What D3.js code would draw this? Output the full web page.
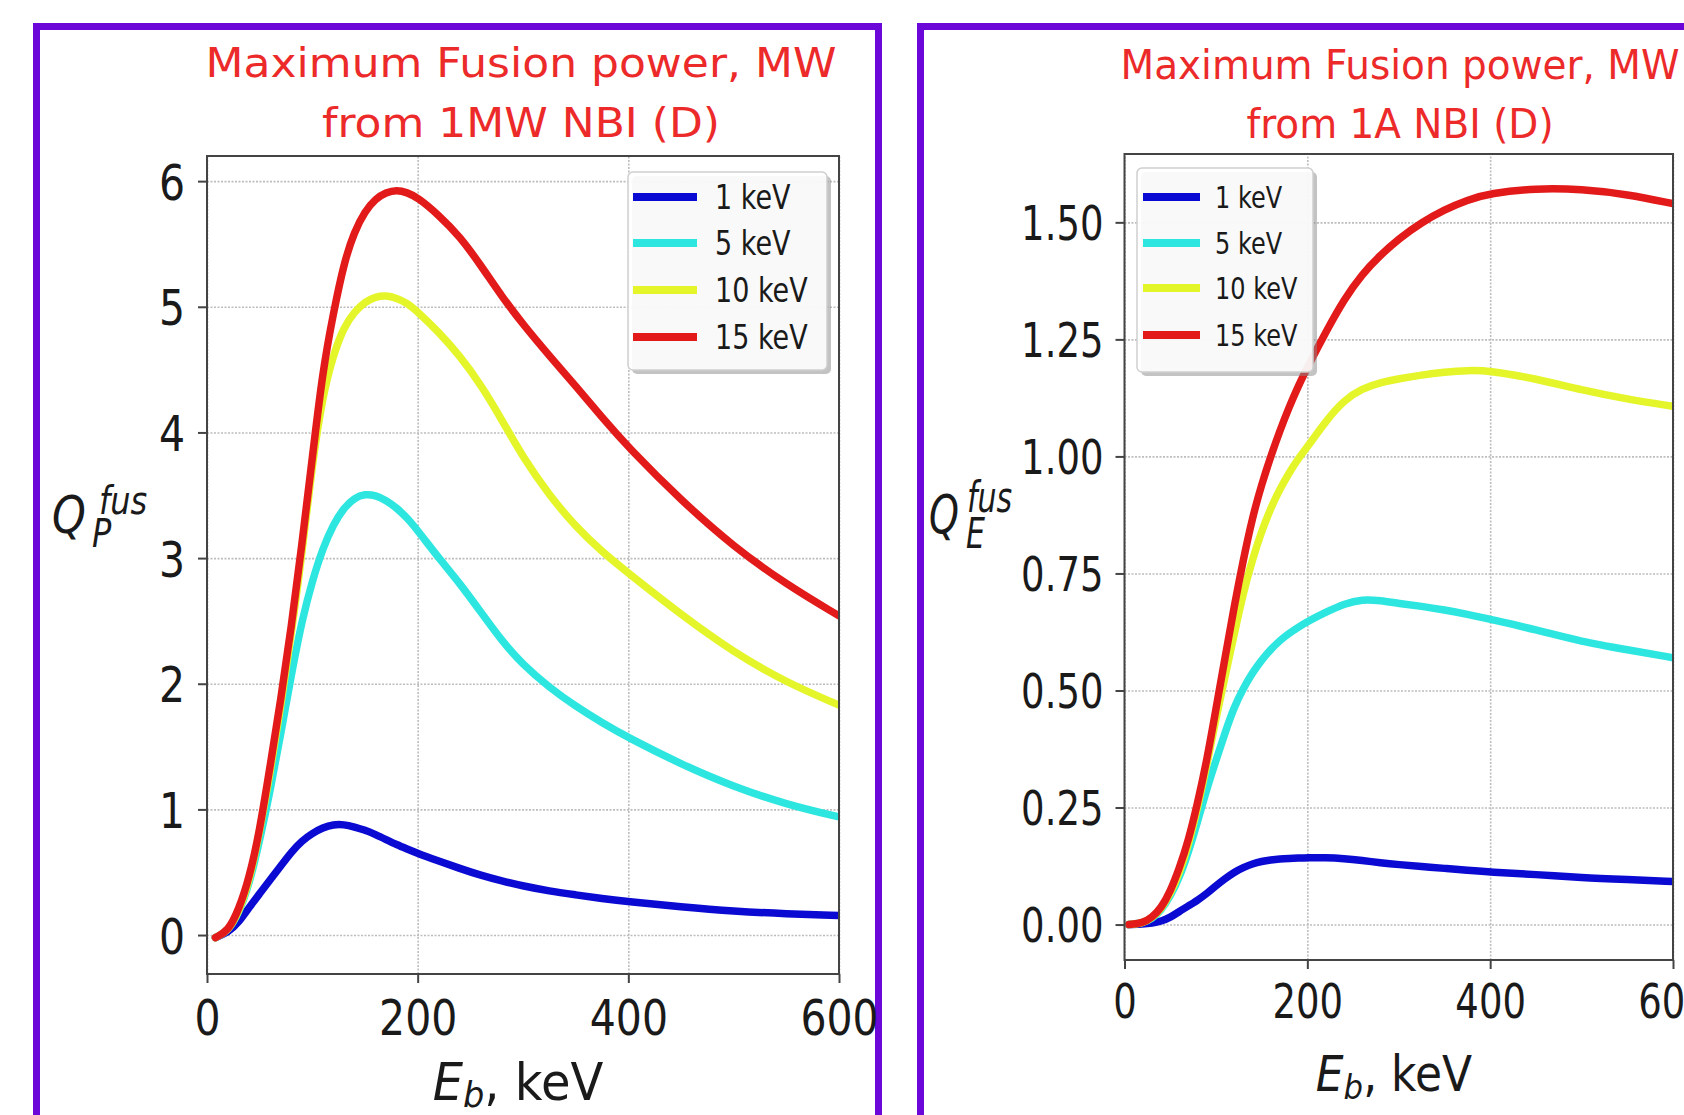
<!DOCTYPE html>
<html>
<head>
<meta charset="utf-8">
<script src="https://cdn.jsdelivr.net/npm/d3@7"></script>
<style>
  html, body { margin: 0; padding: 0; background: #fff; }
  svg { display: block; font-family: "DejaVu Sans", sans-serif; }
</style>
</head>
<body>
<svg id="chart" width="1684" height="1115"></svg>
<script>
// Beam energy grids, keV
const ebPower = [8, 20, 30, 40, 50, 60, 70, 80, 90, 100, 110, 120, 130, 140, 150, 160, 170, 180, 190, 200,
                 220, 240, 260, 280, 300, 325, 350, 375, 400, 450, 500, 550, 600];
const ebCurrent = [5, 20, 30, 40, 50, 60, 70, 80, 90, 100, 110, 120, 130, 140, 150, 160, 170, 180, 190, 200,
                   220, 240, 260, 280, 300, 325, 350, 375, 400, 450, 500, 550, 600];

// Q_P^fus (left panel), one array per plasma temperature
const qp1  = [-0.02, 0.02, 0.1, 0.22, 0.33, 0.44, 0.55, 0.66, 0.75, 0.81, 0.855, 0.88, 0.88, 0.86, 0.835, 0.8, 0.76, 0.72, 0.685, 0.65,
              0.59, 0.53, 0.475, 0.43, 0.39, 0.35, 0.32, 0.29, 0.265, 0.225, 0.19, 0.168, 0.155];
const qp5  = [-0.02, 0.03, 0.17, 0.4, 0.75, 1.15, 1.6, 2.07, 2.5, 2.82, 3.08, 3.27, 3.4, 3.48, 3.51, 3.5, 3.46, 3.4, 3.32, 3.22,
              3.0, 2.8, 2.57, 2.34, 2.15, 1.97, 1.82, 1.69, 1.57, 1.36, 1.18, 1.04, 0.94];
const qp10 = [-0.02, 0.03, 0.18, 0.42, 0.82, 1.3, 1.82, 2.4, 3.02, 3.76, 4.3, 4.62, 4.84, 4.96, 5.04, 5.08, 5.09, 5.07, 5.03, 4.96,
              4.8, 4.61, 4.38, 4.1, 3.8, 3.5, 3.25, 3.05, 2.88, 2.55, 2.25, 2.01, 1.83];
const qp15 = [-0.02, 0.03, 0.2, 0.45, 0.83, 1.35, 1.87, 2.45, 3.1, 3.8, 4.5, 4.95, 5.35, 5.6, 5.76, 5.86, 5.91, 5.93, 5.91, 5.87,
              5.73, 5.56, 5.33, 5.08, 4.86, 4.61, 4.37, 4.12, 3.88, 3.46, 3.09, 2.79, 2.54];

// Q_E^fus (right panel)
const qe1  = [0, 0.001, 0.003, 0.007, 0.015, 0.028, 0.04, 0.052, 0.066, 0.083, 0.098, 0.112, 0.122, 0.13, 0.135, 0.138, 0.14, 0.141, 0.142, 0.143,
              0.143, 0.141, 0.137, 0.132, 0.128, 0.124, 0.12, 0.116, 0.112, 0.107, 0.1, 0.096, 0.092];
const qe5  = [0, 0.003, 0.012, 0.03, 0.06, 0.1, 0.155, 0.22, 0.29, 0.35, 0.41, 0.465, 0.505, 0.538, 0.565, 0.588, 0.607, 0.622, 0.635, 0.647,
              0.667, 0.685, 0.695, 0.692, 0.686, 0.68, 0.672, 0.663, 0.652, 0.63, 0.604, 0.587, 0.57];
const qe10 = [0, 0.003, 0.014, 0.033, 0.065, 0.11, 0.17, 0.25, 0.34, 0.44, 0.53, 0.62, 0.71, 0.78, 0.84, 0.89, 0.93, 0.965, 0.995, 1.02,
              1.075, 1.12, 1.145, 1.158, 1.166, 1.174, 1.18, 1.184, 1.183, 1.166, 1.142, 1.122, 1.107];
const qe15 = [0, 0.003, 0.015, 0.035, 0.07, 0.12, 0.18, 0.26, 0.35, 0.46, 0.57, 0.68, 0.78, 0.87, 0.94, 1.0, 1.055, 1.105, 1.15, 1.19,
              1.265, 1.335, 1.39, 1.43, 1.465, 1.5, 1.527, 1.548, 1.562, 1.573, 1.571, 1.56, 1.54];

const seriesLabels = ["1 keV", "5 keV", "10 keV", "15 keV"];
const seriesColors = ["#0a0ad2", "#2ee6e0", "#e4f52a", "#e31a1a"];

const xTicks = [0, 200, 400, 600];
const yTicksPower = [0, 1, 2, 3, 4, 5, 6];
const yTicksCurrent = [0, 0.25, 0.5, 0.75, 1.0, 1.25, 1.5];

const titlesPower = ["Maximum Fusion power, MW", "from 1MW NBI (D)"];
const titlesCurrent = ["Maximum Fusion power, MW", "from 1A NBI (D)"];

const svg = d3.select("#chart");
const purple = "#6b07d8";
const axisColor = "#444";

const panels = [
    {
        frame: { x: 36.5, w: 842 },
        titles: titlesPower, titleX: 521, titleBase: [77, 137], titleSize: 44, titleSy: 0.94,
        box: { left: 207, right: 839, top: 156, bottom: 974 },
        xDomain: [0, 600], yDomain: [-0.31, 6.2],
        eb: ebPower, series: [qp1, qp5, qp10, qp15],
        yTicks: yTicksPower, yFormat: d3.format("d"),
        tickFont: 41, tickSy: 1.22, yPad: 22, xLabTop: 24,
        ylab: { x: 52, base: 533, font: 43, sy: 1.2, sub: "P", supDx: 47, supDy: -16, subDx: 40, subDy: 12, small: 32 },
        xlab: { x: 518, base: 1100, font: 48, sy: 1.06 },
        legend: { x: 628, y: 172, w: 199, h: 198, rows: [197, 243, 290, 337], hx: [633, 697], tx: 715, font: 27, sy: 1.22 }
    },
    {
        frame: { x: 920.5, w: 900 },
        titles: titlesCurrent, titleX: 1400, titleBase: [79, 138], titleSize: 39, titleSy: 1.05,
        box: { left: 1124.5, right: 1673, top: 154, bottom: 960 },
        xDomain: [0, 600], yDomain: [-0.0757, 1.646],
        eb: ebCurrent, series: [qe1, qe5, qe10, qe15],
        yTicks: yTicksCurrent, yFormat: d3.format(".2f"),
        tickFont: 37, tickSy: 1.3, yPad: 21, xLabTop: 23,
        ylab: { x: 929, base: 533, font: 38, sy: 1.4, sub: "E", supDx: 38, supDy: -15, subDx: 37, subDy: 11, small: 30 },
        xlab: { x: 1394, base: 1091, font: 44, sy: 1.12 },
        legend: { x: 1137, y: 168, w: 176, h: 204, rows: [197, 243, 288, 335], hx: [1143, 1200], tx: 1215, font: 24, sy: 1.22 }
    }
];

panels.forEach((p, idx) => drawPanel(p, idx));

function drawPanel(p, idx) {
    const g = svg.append("g");
    const b = p.box;
    const x = d3.scaleLinear().domain(p.xDomain).range([b.left, b.right]);
    const y = d3.scaleLinear().domain(p.yDomain).range([b.bottom, b.top]);

    // purple frame, open at the bottom of the picture
    g.append("rect")
        .attr("x", p.frame.x).attr("y", 26.5)
        .attr("width", p.frame.w).attr("height", 1200)
        .attr("fill", "none").attr("stroke", purple).attr("stroke-width", 7);

    // title
    p.titles.forEach((t, i) => {
        g.append("text")
            .attr("transform", `translate(${p.titleX},${p.titleBase[i]}) scale(1,${p.titleSy})`)
            .attr("text-anchor", "middle")
            .attr("font-size", p.titleSize)
            .attr("fill", "#ec2a2a")
            .text(t);
    });

    // grid
    const gx = g.append("g")
        .attr("transform", `translate(0,${b.bottom})`)
        .call(d3.axisBottom(x).tickValues(xTicks).tickSize(-(b.bottom - b.top)).tickFormat(""));
    gx.select(".domain").remove();
    const gy = g.append("g")
        .attr("transform", `translate(${b.left},0)`)
        .call(d3.axisLeft(y).tickValues(p.yTicks).tickSize(-(b.right - b.left)).tickFormat(""));
    gy.select(".domain").remove();
    g.selectAll("g.tick line")
        .attr("stroke", "#bdbdbd").attr("stroke-width", 1.6).attr("stroke-dasharray", "2,1.5");

    // curves
    const clipId = "clip" + idx;
    g.append("clipPath").attr("id", clipId)
        .append("rect").attr("x", b.left).attr("y", b.top)
        .attr("width", b.right - b.left).attr("height", b.bottom - b.top);

    const line = d3.line()
        .x(d => x(d[0]))
        .y(d => y(d[1]))
        .curve(d3.curveBasis);

    p.series.forEach((vals, i) => {
        g.append("path")
            .datum(p.eb.map((e, j) => [e, vals[j]]))
            .attr("clip-path", `url(#${clipId})`)
            .attr("d", line)
            .attr("fill", "none")
            .attr("stroke", seriesColors[i])
            .attr("stroke-width", 7.5)
            .attr("stroke-linejoin", "round")
            .attr("stroke-linecap", "round");
    });

    // axes box
    g.append("rect")
        .attr("x", b.left).attr("y", b.top)
        .attr("width", b.right - b.left).attr("height", b.bottom - b.top)
        .attr("fill", "none").attr("stroke", axisColor).attr("stroke-width", 2);

    // ticks and tick labels
    const ax = g.append("g")
        .attr("transform", `translate(0,${b.bottom})`)
        .call(d3.axisBottom(x).tickValues(xTicks).tickSize(9).tickFormat(d3.format("d")));
    ax.select(".domain").remove();
    ax.selectAll("line").attr("stroke", axisColor).attr("stroke-width", 2);
    ax.selectAll("text")
        .attr("y", 0).attr("dy", "0.73em")
        .attr("transform", `translate(0,${p.xLabTop}) scale(1,${p.tickSy})`)
        .attr("font-size", p.tickFont).attr("font-family", "DejaVu Sans").attr("fill", "#1a1a1a");

    const ay = g.append("g")
        .attr("transform", `translate(${b.left},0)`)
        .call(d3.axisLeft(y).tickValues(p.yTicks).tickSize(9).tickFormat(p.yFormat));
    ay.select(".domain").remove();
    ay.selectAll("line").attr("stroke", axisColor).attr("stroke-width", 2);
    ay.selectAll("text")
        .attr("x", -p.yPad).attr("dy", "0.36em")
        .attr("transform", `scale(1,${p.tickSy})`)
        .attr("font-size", p.tickFont).attr("font-family", "DejaVu Sans").attr("fill", "#1a1a1a");

    // y label: Q with superscript "fus" and subscript
    const yl = p.ylab;
    const lg = g.append("g")
        .attr("transform", `translate(${yl.x},${yl.base}) scale(1,${yl.sy})`)
        .attr("font-style", "italic").attr("fill", "#1a1a1a");
    lg.append("text").attr("font-size", yl.font).text("Q");
    lg.append("text").attr("x", yl.supDx).attr("y", yl.supDy).attr("font-size", yl.small).text("fus");
    lg.append("text").attr("x", yl.subDx).attr("y", yl.subDy).attr("font-size", yl.small).text(yl.sub);

    // x label: E_b, keV
    const xl = p.xlab;
    const xt = g.append("text")
        .attr("transform", `translate(${xl.x},${xl.base}) scale(1,${xl.sy})`)
        .attr("text-anchor", "middle")
        .attr("font-size", xl.font).attr("fill", "#1a1a1a");
    xt.append("tspan").attr("font-style", "italic").text("E");
    xt.append("tspan").attr("font-style", "italic").attr("font-size", xl.font * 0.7).attr("dy", 7).text("b");
    xt.append("tspan").attr("dy", -7).text(", keV");

    // legend
    const L = p.legend;
    const leg = g.append("g");
    leg.append("rect")
        .attr("x", L.x + 4).attr("y", L.y + 4).attr("width", L.w).attr("height", L.h)
        .attr("rx", 5).attr("fill", "#888").attr("opacity", 0.5);
    leg.append("rect")
        .attr("x", L.x).attr("y", L.y).attr("width", L.w).attr("height", L.h)
        .attr("rx", 5).attr("fill", "#fff").attr("fill-opacity", 0.9)
        .attr("stroke", "#cfcfcf").attr("stroke-width", 1.5);
    seriesLabels.forEach((name, i) => {
        leg.append("line")
            .attr("x1", L.hx[0]).attr("x2", L.hx[1])
            .attr("y1", L.rows[i]).attr("y2", L.rows[i])
            .attr("stroke", seriesColors[i]).attr("stroke-width", 8);
        leg.append("text")
            .attr("transform", `translate(${L.tx},${L.rows[i]}) scale(1,${L.sy})`)
            .attr("dy", "0.36em")
            .attr("font-size", L.font).attr("fill", "#1a1a1a")
            .text(name);
    });
}
</script>
</body>
</html>
